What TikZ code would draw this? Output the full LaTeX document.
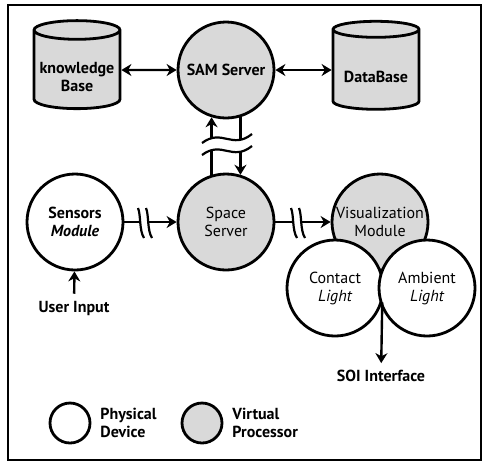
\documentclass[tikz,border=0pt]{standalone}
\usepackage{fontspec}
\setmainfont{PT Sans}
\usetikzlibrary{positioning,shapes.geometric,arrows.meta}

\tikzset{device/.style = {circle, draw, line width=1.4pt, fill=white,
                          minimum size=#1, inner sep=0pt, align=center,
                          font=\fontsize{8}{9}\selectfont},
         device/.default=48pt,
         proc/.style = {device=#1, fill=gray!30},
         proc/.default=48pt,
         store/.style = {cylinder, shape border rotate=90, draw, line width=1.4pt,
                         fill=gray!30, aspect=0.25, minimum width=43pt,
                         minimum height=44pt, inner sep=0pt, align=center,
                         font=\bfseries\fontsize{8}{9}\selectfont},
         tag/.style = {font=\bfseries\fontsize{8}{9}\selectfont},
         link/.style = {line width=1.2pt, ->},
         cut/.style = {line width=1.1pt},
         >={Stealth[length=5pt,width=6pt]}
        }

% strut that pushes the text of a cylinder below its middle
\newcommand{\lowtext}{\rule{0pt}{13pt}}

\begin{document}
\begin{tikzpicture}[x=0.5pt, y=-0.5pt]
  \useasboundingbox (0,0) rectangle (485,462);
  \draw[line width=1pt] (8,5) rectangle (481,460);

  \node[store] (know) at (77,70) {\lowtext knowledge\\Base};
  \node[proc, font=\bfseries\fontsize{8}{9}\selectfont] (sam) at (226,70) {SAM Server};
  \node[store] (data) at (376,70) {\lowtext DataBase};

  \node[device, font=\bfseries\fontsize{8}{9}\selectfont] (sensors) at (75,222) {Sensors\\\itshape Module};
  \node[proc] (space) at (226,222) {Space\\Server};
  \node[proc] (viz) at (380,222) {\makebox[0pt]{Visualization}\\Module};
  \node[device] (contact) at (335,288) {Contact\\\itshape Light};
  \node[device] (ambient) at (427,288) {Ambient\\\itshape Light};

  \node[tag] (input) at (74,308) {User Input};
  \node[tag] (soi) at (381,376) {SOI Interface};

  \draw[link, <->] (know) -- (sam);
  \draw[link, <->] (sam) -- (data);
  \draw[link] (space.107) -- (sam.253);
  \draw[link] (sam.287) -- (space.73);
  \draw[link] (sensors) -- (space);
  \draw[link] (space) -- (viz);
  \draw[link] (contact.-17) -- (soi);
  \draw[link] (input) -- (sensors);

  \fill[white] (202,143) .. controls (222,128) and (232,150) .. (252,134)
    -- (252,146) .. controls (232,162) and (222,140) .. (202,155) -- cycle;
  \draw[cut] (202,143) .. controls (222,128) and (232,150) .. (252,134);
  \draw[cut] (202,155) .. controls (222,140) and (232,162) .. (252,146);

  \fill[white] (138,208) .. controls (141,215) and (139,230) .. (144,238)
    -- (152,238) .. controls (147,230) and (149,215) .. (146,208) -- cycle;
  \draw[cut] (138,208) .. controls (141,215) and (139,230) .. (144,238);
  \draw[cut] (146,208) .. controls (149,215) and (147,230) .. (152,238);

  \fill[white] (291,208) .. controls (294,215) and (292,230) .. (297,238)
    -- (305,238) .. controls (300,230) and (302,215) .. (299,208) -- cycle;
  \draw[cut] (291,208) .. controls (294,215) and (292,230) .. (297,238);
  \draw[cut] (299,208) .. controls (302,215) and (300,230) .. (305,238);

  \node[device=20pt] (legphys) at (70,423) {};
  \node[tag, right=1pt of legphys, align=left] (physlabel) {Physical\\Device};
  \node[proc=20pt] (legvirt) at (202,423) {};
  \node[tag, right=1pt of legvirt, align=left] (virtlabel) {Virtual\\Processor};
\end{tikzpicture}
\end{document}
